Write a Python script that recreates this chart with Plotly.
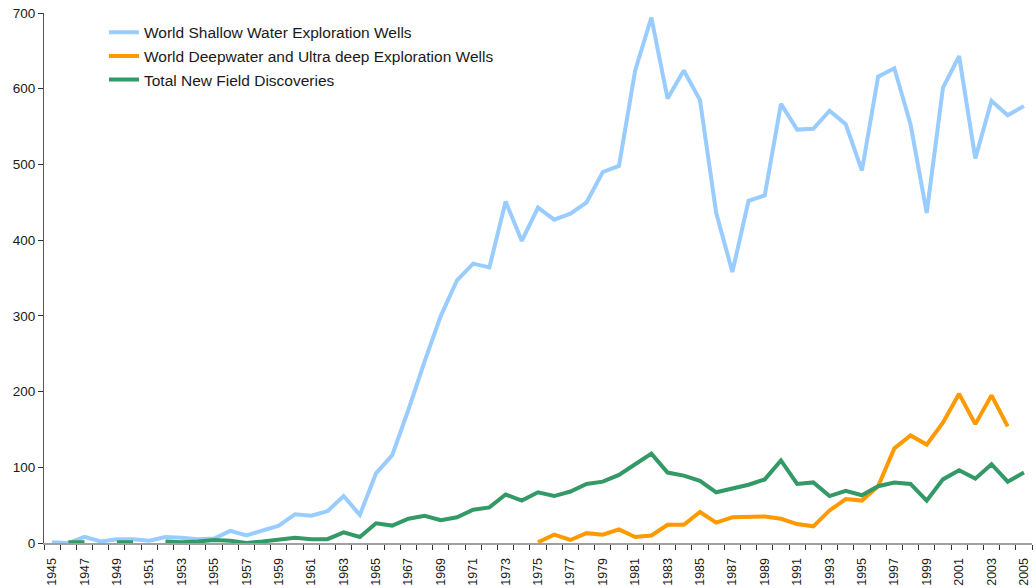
import plotly.graph_objects as go

years = list(range(1945, 2006))

shallow = [1, 0, 8, 2, 5, 5, 3, 8, 7, 5,
           6, 16, 10, 17, 23, 38, 36, 42, 62, 37,
           92, 116, 176, 240, 300, 347, 369, 364, 451, 399,
           443, 427, 435, 450, 490, 498, 624, 694, 587, 624,
           585, 436, 358, 452, 459, 580, 546, 547, 571, 553,
           492, 616, 627, 553, 436, 601, 643, 508, 584, 565,
           577]

deep = [None] * 30 + [
           1, 11, 4, 13, 11, 18, 8, 10, 24, 24,
           41, 27, 34, 34, 35, 32, 25, 22, 43, 58,
           56, 75, 125, 142, 130, 159, 197, 157, 195, 154,
           None]

discoveries = [None, 1, 1, None, 1, 1, None, 2, 1, 2,
               4, 3, 0, 2, 4, 7, 5, 5, 14, 8,
               26, 23, 32, 36, 30, 34, 44, 47, 64, 56,
               67, 62, 68, 78, 81, 90, 104, 118, 93, 89,
               82, 67, 72, 77, 84, 109, 78, 80, 62, 69,
               63, 75, 80, 78, 56, 84, 96, 85, 104, 81,
               93]

series_names = ["World Shallow Water Exploration Wells",
                "World Deepwater and Ultra deep Exploration Wells",
                "Total New Field Discoveries"]
series_colors = ["#99CCFF", "#FF9900", "#339966"]

label_years = [y for y in years if (y - 1945) % 2 == 0]
label_text = [str(y) for y in label_years]
y_ticks = [0, 100, 200, 300, 400, 500, 600, 700]

fig = go.Figure()
for i, (name, vals, col) in enumerate(zip(series_names, [shallow, deep, discoveries], series_colors)):
    fig.add_trace(go.Scatter(x=years, y=vals, name=name, mode="lines",
                             line=dict(color=col, width=4),
                             legendgroup="g%d" % i,
                             connectgaps=False))

fig.update_layout(
    width=1036, height=588,
    margin=dict(l=44, r=4, t=13, b=45, autoexpand=False),
    paper_bgcolor="white", plot_bgcolor="white",
    showlegend=True,
    legend=dict(x=0.0607, y=0.995, xanchor="left", yanchor="top",
                bgcolor="rgba(0,0,0,0)",
                font=dict(family="Liberation Sans, Arial, sans-serif",
                          size=15.5, color="#1a1a1a"),
                tracegroupgap=0.5, itemwidth=30),
    xaxis=dict(range=[1944.5, 2005.5], tickmode="array",
               tickvals=label_years, ticktext=label_text,
               tickangle=-90, ticks="", showgrid=False, zeroline=False,
               showline=True, linecolor="#a0a0a0", linewidth=2,
               automargin=False, ticklabelstandoff=8,
               tickfont=dict(family="Liberation Sans, Arial, sans-serif",
                             size=12.5, color="#1a1a1a"),
               minor=dict(tickmode="linear", tick0=1944.5, dtick=1,
                          ticks="outside", ticklen=5, tickcolor="#333333",
                          tickwidth=1, showgrid=False)),
    yaxis=dict(range=[0, 700], tickmode="array", tickvals=y_ticks,
               ticks="outside", ticklen=5, tickcolor="#333333",
               showgrid=False, zeroline=False, automargin=False,
               showline=True, linecolor="#555555", linewidth=1,
               tickfont=dict(family="Liberation Sans, Arial, sans-serif",
                             size=13.5, color="#1a1a1a")),
)

fig.write_html("out.html", config={"displayModeBar": False},
               post_script="document.body.style.margin='0';")
